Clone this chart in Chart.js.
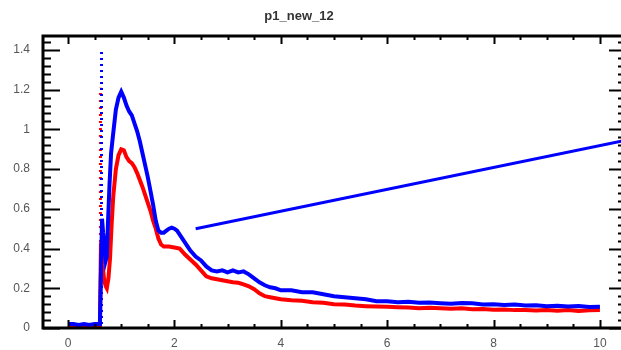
<!DOCTYPE html>
<html>
<head>
<meta charset="utf-8">
<script src="https://cdn.jsdelivr.net/npm/chart.js@4"></script>
<style>
  html, body { margin: 0; padding: 0; background: #fff; overflow: hidden; }
  #wrap { width: 640px; height: 350px; position: relative; }
</style>
</head>
<body>
<div id="wrap"><canvas id="c"></canvas></div>
<script>
// histogram p1_new_12, values
var chartTitle = 'p1_new_12';

var xTicks = [0, 2, 4, 6, 8, 10];
var yTicks = [0, 0.2, 0.4, 0.6, 0.8, 1, 1.2, 1.4];

// blue series (upper)
var blueX = [0, 0.1, 0.2, 0.3, 0.4, 0.5, 0.6,
    0.64, 0.66, 0.69, 0.71, 0.73, 0.75, 0.78, 0.81, 0.85, 0.9, 0.95, 1.0, 1.05, 1.1, 1.15,
    1.2, 1.25, 1.3, 1.35, 1.4, 1.45, 1.5, 1.55, 1.6, 1.65, 1.7, 1.75, 1.8, 1.85, 1.9, 1.95,
    2.0, 2.05, 2.1, 2.15, 2.2, 2.25, 2.3, 2.4, 2.5, 2.6, 2.7, 2.8, 2.9,
    3.0, 3.1, 3.2, 3.3, 3.4, 3.5, 3.6, 3.7, 3.8, 3.9, 4.0, 4.2, 4.4, 4.6, 4.8,
    5.0, 5.2, 5.4, 5.6, 5.8, 6.0, 6.2, 6.4, 6.6, 6.8, 7.0, 7.2, 7.4, 7.6, 7.8,
    8.0, 8.2, 8.4, 8.6, 8.8, 9.0, 9.2, 9.4, 9.6, 9.8, 10.0];
var blueY = [0.02, 0.02, 0.015, 0.02, 0.015, 0.02, 0.02,
    0.55, 0.48, 0.40, 0.34, 0.36, 0.52, 0.72, 0.88, 0.98, 1.1, 1.16, 1.19, 1.16, 1.12, 1.09,
    1.07, 1.03, 0.99, 0.94, 0.88, 0.82, 0.76, 0.69, 0.62, 0.54, 0.49, 0.48, 0.48, 0.49, 0.50, 0.505,
    0.50, 0.49, 0.47, 0.45, 0.43, 0.41, 0.39, 0.36, 0.34, 0.31, 0.29, 0.285, 0.29,
    0.28, 0.29, 0.28, 0.285, 0.27, 0.25, 0.23, 0.215, 0.205, 0.2, 0.19, 0.19, 0.18, 0.18, 0.17,
    0.16, 0.155, 0.15, 0.145, 0.135, 0.135, 0.13, 0.132, 0.127, 0.128, 0.125, 0.122, 0.126, 0.124, 0.118,
    0.12, 0.116, 0.118, 0.113, 0.115, 0.11, 0.112, 0.108, 0.111, 0.106, 0.107];

// red series (lower)
var redX = [0, 0.1, 0.2, 0.3, 0.4, 0.5, 0.6,
    0.62, 0.65, 0.68, 0.71, 0.73, 0.76, 0.79, 0.82, 0.85, 0.9, 0.95, 1.0, 1.05, 1.1, 1.15,
    1.2, 1.25, 1.3, 1.35, 1.4, 1.45, 1.5, 1.55, 1.6, 1.65, 1.7, 1.75, 1.8, 1.9,
    2.0, 2.1, 2.2, 2.3, 2.4, 2.5, 2.6, 2.7, 2.8, 2.9,
    3.0, 3.1, 3.2, 3.3, 3.4, 3.5, 3.6, 3.7, 3.8, 3.9, 4.0, 4.2, 4.4, 4.6, 4.8,
    5.0, 5.2, 5.4, 5.6, 5.8, 6.0, 6.2, 6.4, 6.6, 6.8, 7.0, 7.2, 7.4, 7.6, 7.8,
    8.0, 8.2, 8.4, 8.6, 8.8, 9.0, 9.2, 9.4, 9.6, 9.8, 10.0];
var redY = [0.01, 0.01, 0.01, 0.01, 0.01, 0.01, 0.01,
    0.43, 0.32, 0.24, 0.21, 0.20, 0.25, 0.35, 0.52, 0.66, 0.80, 0.87, 0.90, 0.895, 0.86, 0.84,
    0.83, 0.81, 0.78, 0.745, 0.71, 0.67, 0.63, 0.59, 0.54, 0.50, 0.45, 0.42, 0.41, 0.41,
    0.405, 0.40, 0.37, 0.345, 0.32, 0.29, 0.26, 0.25, 0.245, 0.24,
    0.235, 0.23, 0.228, 0.22, 0.21, 0.195, 0.175, 0.16, 0.155, 0.15, 0.145, 0.14, 0.137, 0.13, 0.127,
    0.12, 0.118, 0.113, 0.11, 0.108, 0.107, 0.105, 0.103, 0.10, 0.102, 0.10, 0.097, 0.099, 0.095, 0.096,
    0.092, 0.093, 0.09, 0.091, 0.088, 0.09, 0.087, 0.09, 0.086, 0.089, 0.09];

// the dotted spikes at the threshold
var blueSpikeX = [0.63, 0.63];
var blueSpikeY = [0.02, 1.41];
var redSpikeX = [0.61, 0.61];
var redSpikeY = [0.01, 1.21];

// straight blue line
var lineX = [2.4, 10.49];
var lineY = [0.5, 0.945];

var xMin = -0.47, xMax = 10.49;
var yMin = 0, yMax = 1.47;

function pts(xs, ys) {
    return xs.map(function(x, i) { return { x: x, y: ys[i] }; });
}

// frame + inward ticks on all four sides, plus title
var framePlugin = {
    id: 'frame',
    afterDraw: function(chart) {
        var ctx = chart.ctx;
        var a = chart.chartArea;
        var xs = chart.scales.x, ys = chart.scales.y;
        ctx.save();
        ctx.strokeStyle = '#000';
        ctx.lineWidth = 2;
        var v, p, k;
        // x ticks, major every 2, minor every 0.5
        for (k = 0; k <= 20; k++) {
            v = k * 0.5;
            p = Math.round(xs.getPixelForValue(v)) + 0.5;
            var len = (k % 4 === 0) ? 8 : 4;
            ctx.beginPath();
            ctx.moveTo(p, a.bottom); ctx.lineTo(p, a.bottom - len);
            ctx.moveTo(p, a.top); ctx.lineTo(p, a.top + len);
            ctx.stroke();
        }
        // y ticks, major every 0.2, minor every 0.04
        for (k = 0; k <= 36; k++) {
            v = k * 0.04;
            p = Math.round(ys.getPixelForValue(v)) + 0.5;
            var l2 = (k % 5 === 0) ? 17 : 8;
            ctx.beginPath();
            ctx.moveTo(a.left, p); ctx.lineTo(a.left + l2, p);
            ctx.moveTo(a.right, p); ctx.lineTo(a.right - l2, p);
            ctx.stroke();
        }
        ctx.lineWidth = 3;
        ctx.strokeRect(a.left, a.top, a.right - a.left, a.bottom - a.top);

        ctx.fillStyle = '#333';
        ctx.font = 'bold 13px "Liberation Sans", Arial, sans-serif';
        ctx.textAlign = 'center';
        ctx.textBaseline = 'middle';
        ctx.fillText(chartTitle, 299, 16);
        ctx.restore();
    }
};

var ctx = document.getElementById('c').getContext('2d');
var chart = new Chart(ctx, {
    type: 'line',
    data: {
        datasets: [{
            data: pts(blueX, blueY),
            borderColor: '#0000ff',
            borderWidth: 4,
            pointRadius: 0,
            tension: 0
        }, {
            data: pts(lineX, lineY),
            borderColor: '#0000ff',
            borderWidth: 3,
            pointRadius: 0
        }, {
            data: pts(blueSpikeX, blueSpikeY),
            borderColor: '#0000ff',
            borderWidth: 3,
            borderDash: [2, 4],
            pointRadius: 0
        }, {
            data: pts(redSpikeX, redSpikeY),
            borderColor: '#ff0000',
            borderWidth: 3,
            borderDash: [2, 5],
            pointRadius: 0
        }, {
            data: pts(redX, redY),
            borderColor: '#ff0000',
            borderWidth: 4,
            pointRadius: 0,
            tension: 0
        }]
    },
    options: {
        responsive: true,
        maintainAspectRatio: false,
        animation: false,
        layout: { padding: { top: 36, right: 14, left: 0, bottom: 0 } },
        plugins: {
            legend: { display: false },
            tooltip: { enabled: false },
            title: { display: false }
        },
        scales: {
            x: {
                type: 'linear',
                min: xMin,
                max: xMax,
                grid: { display: false, drawTicks: false },
                border: { display: false },
                afterBuildTicks: function(s) { s.ticks = xTicks.map(function(v) { return { value: v }; }); },
                afterFit: function(s) { s.height = 22; },
                ticks: {
                    padding: 8,
                    color: '#555',
                    font: { family: '"Liberation Sans", Arial, sans-serif', size: 12 },
                    callback: function(v) { return String(v); }
                }
            },
            y: {
                type: 'linear',
                min: yMin,
                max: yMax,
                grid: { display: false, drawTicks: false },
                border: { display: false },
                afterBuildTicks: function(s) { s.ticks = yTicks.map(function(v) { return { value: v }; }); },
                afterFit: function(s) { s.width = 43; },
                ticks: {
                    padding: 13,
                    color: '#555',
                    font: { family: '"Liberation Sans", Arial, sans-serif', size: 12 },
                    callback: function(v) { return String(Math.round(v * 10) / 10); }
                }
            }
        }
    },
    plugins: [framePlugin]
});
</script>
</body>
</html>
